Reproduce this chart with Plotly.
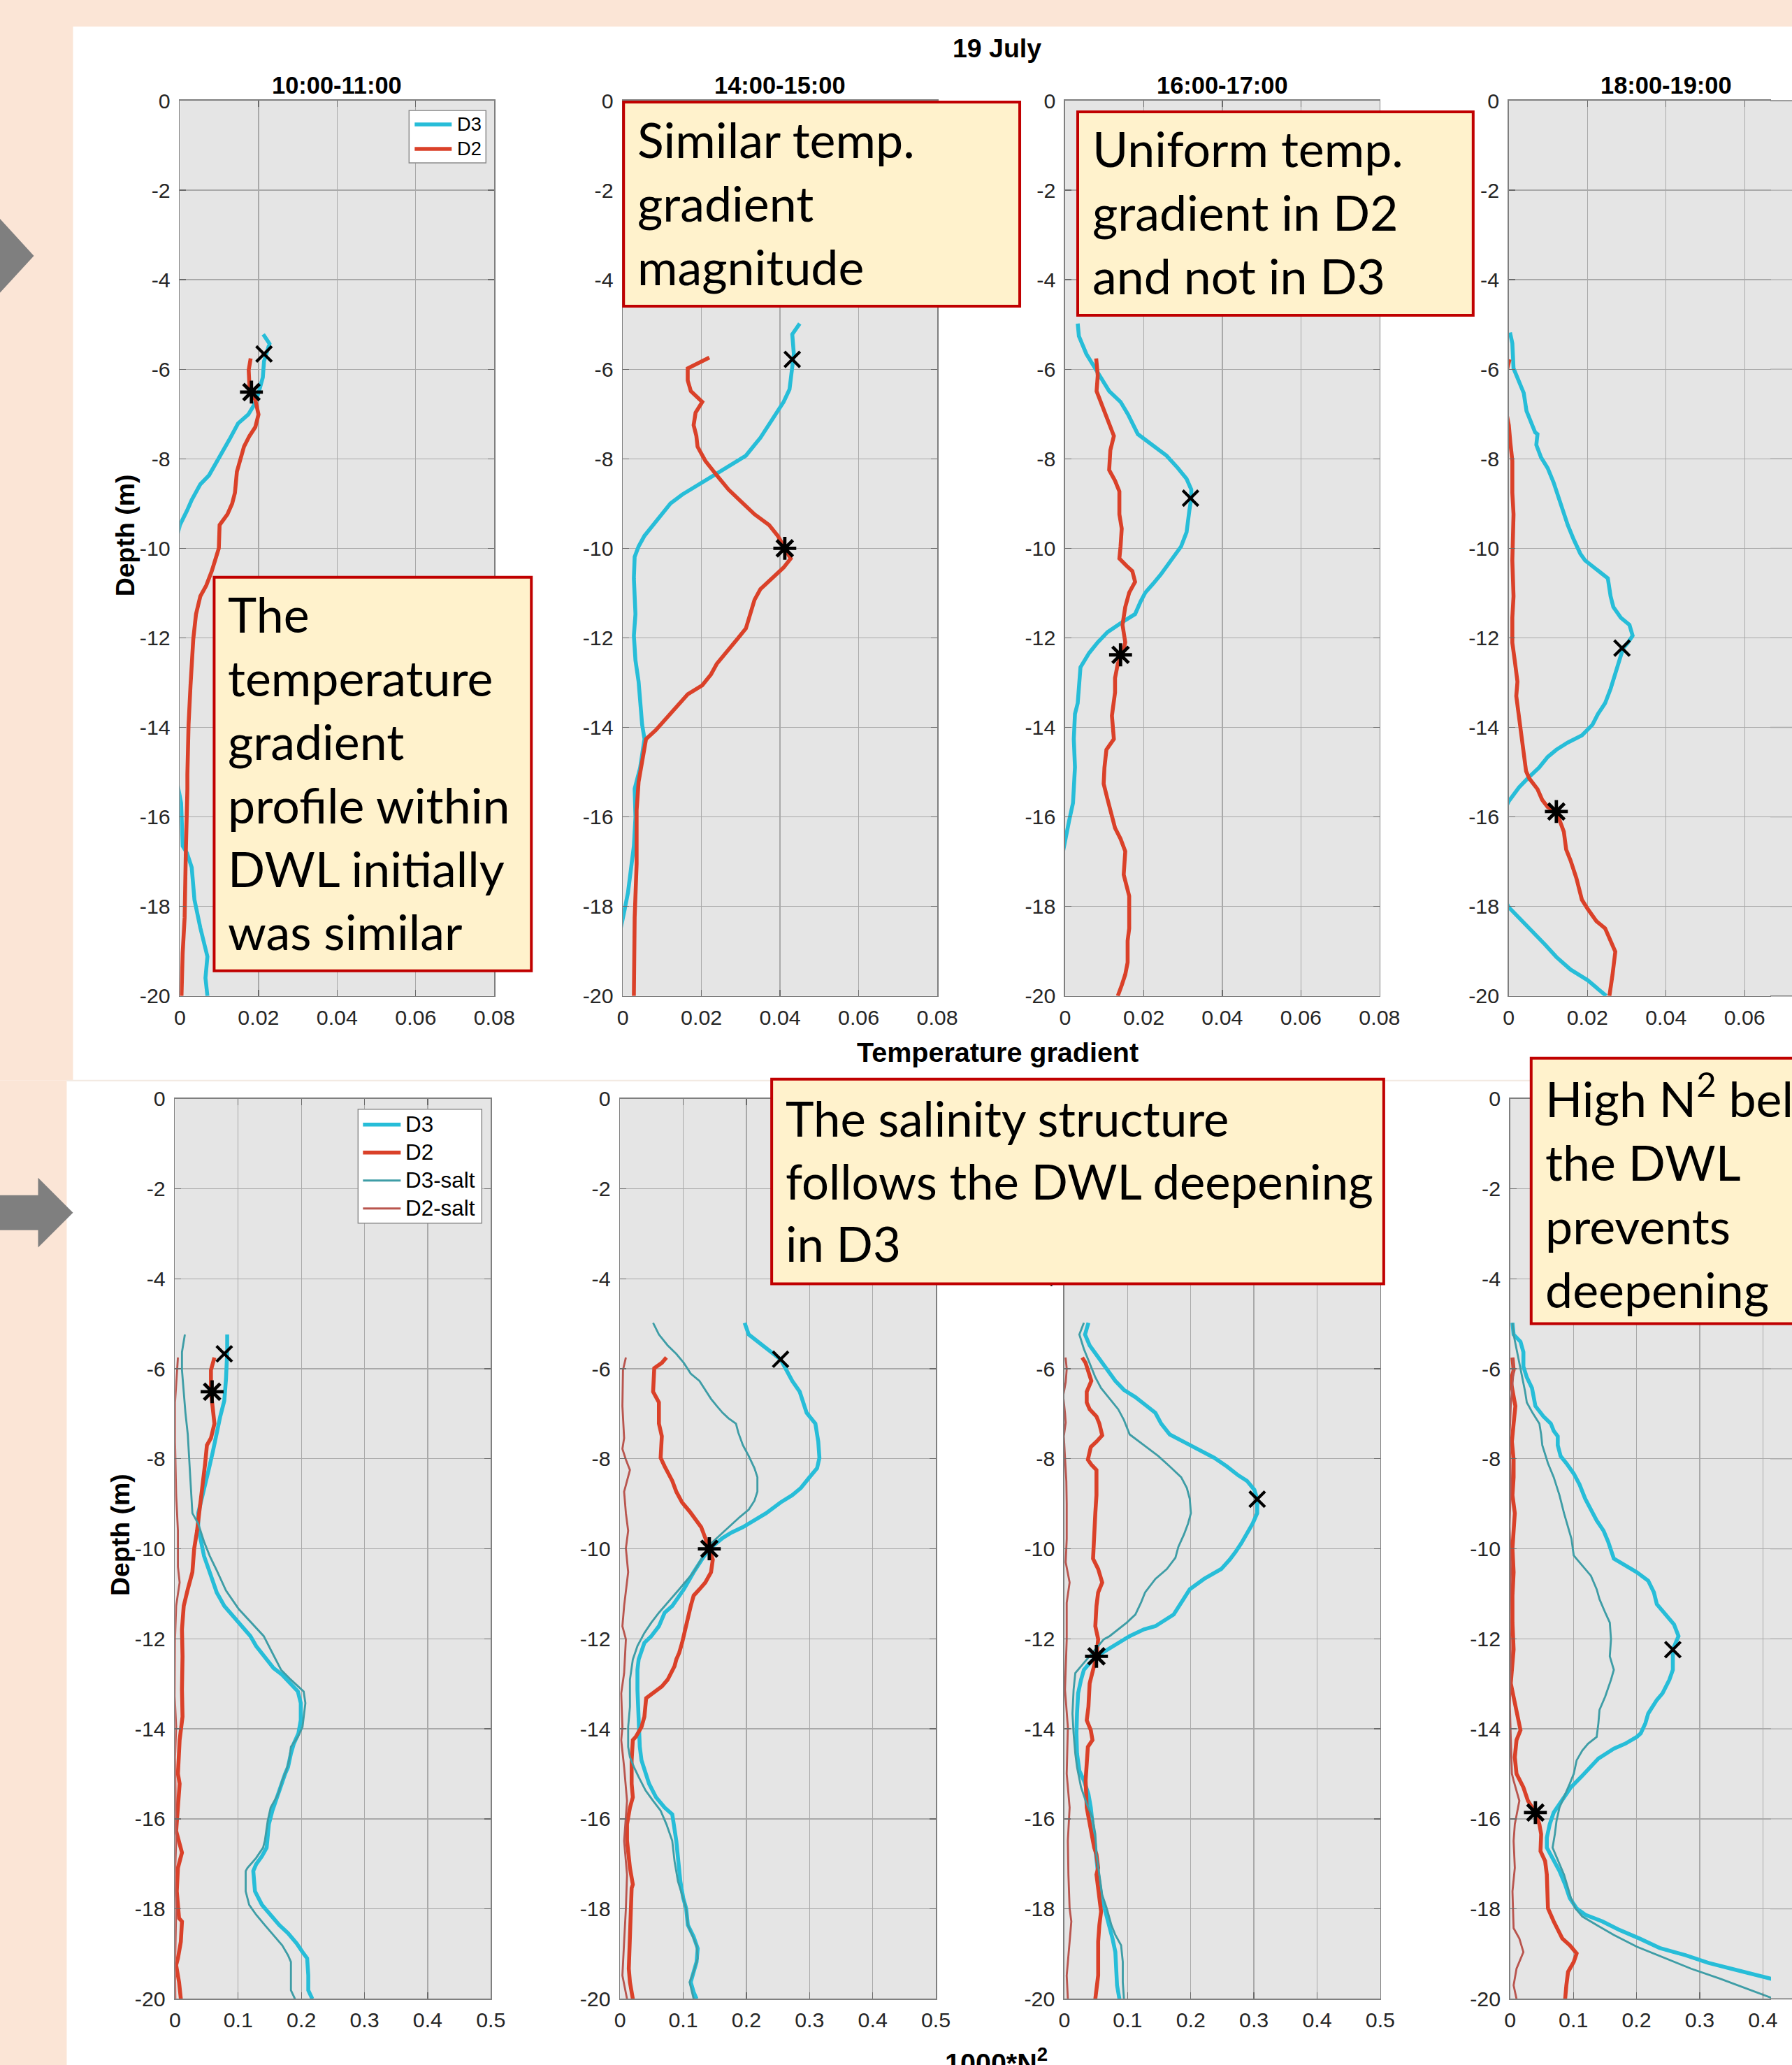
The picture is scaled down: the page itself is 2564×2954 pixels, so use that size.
import plotly.graph_objects as go

W, H = 2564, 2954
# The photographed page shows the figure slightly shrunk and offset; positions below are given in
# target-image pixels and mapped back into figure pixels here.
SX, SY, OX, OY = 0.9855, 0.9887, 6.5, 16.0
K = 1 / 0.987  # size compensation for fonts / strokes


def fx(p):
    return ((p - OX) / SX) / W


def fy(p):
    return 1 - ((p - OY) / SY) / H


# ------------------------------------------------------------------ data
depth_ticks = [-20, -18, -16, -14, -12, -10, -8, -6, -4, -2, 0]
depth_ticklabels = ["-20", "-18", "-16", "-14", "-12", "-10", "-8", "-6", "-4", "-2", "0"]
tg_ticks = [0, 0.02, 0.04, 0.06, 0.08]
tg_ticklabels = ["0", "0.02", "0.04", "0.06", "0.08"]
n2_ticks = [0, 0.1, 0.2, 0.3, 0.4, 0.5]
n2_ticklabels = ["0", "0.1", "0.2", "0.3", "0.4", "0.5"]
time_windows = ["10:00-11:00", "14:00-15:00", "16:00-17:00", "18:00-19:00"]

# --- temperature gradient, top row
t1_d3_z = [-5.22, -5.43, -5.82, -6.18, -6.53, -6.81, -7.01, -7.21, -7.57, -8.01, -8.37, -8.57, -8.92, -9.16, -9.48,
           -10.0, -11.0, -12.5, -14.0, -15.0, -15.53, -15.69, -16.65, -16.81, -17.13, -17.85, -18.48, -18.88, -19.12,
           -19.6, -20.0]
t1_d3_x = [0.0212, 0.0228, 0.0214, 0.0211, 0.0200, 0.0188, 0.0174, 0.0148, 0.0126, 0.0096, 0.0074, 0.0052, 0.0030,
           0.0018, 0.0000, -0.0015, -0.0030, -0.0040, -0.0030, -0.0012, 0.0000, 0.0003, 0.0007, 0.0018, 0.0030, 0.0037,
           0.0052, 0.0062, 0.0070, 0.0065, 0.0070]
t1_d2_z = [-5.76, -6.02, -6.37, -6.51, -6.69, -7.01, -7.29, -7.49, -7.73, -7.97, -8.29, -8.76, -9.0, -9.24, -9.48,
           -10.0, -10.51, -10.83, -11.07, -11.47, -12.03, -13.06, -13.94, -15.06, -15.38, -16.81, -18.25, -19.04, -20.0]
t1_d2_x = [0.0180, 0.0175, 0.0177, 0.0182, 0.0192, 0.0200, 0.0192, 0.0177, 0.0163, 0.0155, 0.0145, 0.0140, 0.0133,
           0.0121, 0.0101, 0.0099, 0.0081, 0.0067, 0.0052, 0.0041, 0.0034, 0.0027, 0.0022, 0.0019, 0.0019, 0.0015,
           0.0012, 0.0007, 0.0004]

t2_d3_z = [-4.98, -5.22, -5.66, -6.45, -6.73, -6.93, -7.25, -7.53, -7.69, -7.93, -8.13, -8.37, -8.61, -8.80, -9.0,
           -9.24, -9.48, -9.72, -9.96, -10.19, -10.67, -11.47, -11.95, -12.5, -12.98, -13.46, -13.94, -14.26, -14.9,
           -15.37, -16.01, -16.65, -17.37, -17.69, -18.09, -18.6, -19.3, -20.0]
t2_d3_x = [0.0450, 0.0431, 0.0435, 0.0424, 0.0409, 0.0394, 0.0372, 0.0350, 0.0335, 0.0313, 0.0276, 0.0232, 0.0187,
           0.0151, 0.0121, 0.0099, 0.0077, 0.0055, 0.0040, 0.0030, 0.0028, 0.0032, 0.0028, 0.0032, 0.0040, 0.0044,
           0.0049, 0.0055, 0.0044, 0.0030, 0.0032, 0.0028, 0.0018, 0.0013, 0.0004, -0.0008, -0.0015, -0.0020]
t2_d2_z = [-5.74, -5.98, -6.25, -6.49, -6.73, -6.97, -7.25, -7.49, -7.73, -8.05, -8.37, -8.69, -9.0, -9.24, -9.48,
           -9.72, -10.0, -10.23, -10.43, -10.67, -10.91, -11.15, -11.47, -11.79, -12.03, -12.35, -12.58, -12.82, -13.06,
           -13.26, -13.54, -13.78, -14.06, -14.26, -14.66, -15.22, -15.85, -17.05, -18.25, -19.44, -20.0]
t2_d2_x = [0.0220, 0.0165, 0.0165, 0.0173, 0.0202, 0.0185, 0.0180, 0.0187, 0.0190, 0.0210, 0.0239, 0.0269, 0.0306,
           0.0335, 0.0372, 0.0394, 0.0412, 0.0427, 0.0409, 0.0379, 0.0350, 0.0335, 0.0323, 0.0313, 0.0291, 0.0261,
           0.0239, 0.0224, 0.0202, 0.0165, 0.0136, 0.0114, 0.0084, 0.0059, 0.0052, 0.0040, 0.0035, 0.0035, 0.0030,
           0.0028, 0.0028]

t3_d3_z = [-4.98, -5.26, -5.66, -5.98, -6.22, -6.49, -6.73, -7.01, -7.45, -7.69, -7.93, -8.21, -8.45, -8.69, -8.88,
           -9.16, -9.64, -9.96, -10.23, -10.43, -10.59, -10.79, -10.99, -11.19, -11.47, -11.63, -11.87, -12.1, -12.34,
           -12.66, -13.06, -13.46, -13.7, -14.26, -14.89, -15.69, -16.09, -16.57, -17.2, -18.5, -20.0]
t3_d3_x = [0.0032, 0.0035, 0.0054, 0.0076, 0.0093, 0.0112, 0.0141, 0.0160, 0.0185, 0.0221, 0.0258, 0.0287, 0.0309,
           0.0321, 0.0321, 0.0316, 0.0309, 0.0295, 0.0273, 0.0258, 0.0243, 0.0224, 0.0204, 0.0192, 0.0178, 0.0149,
           0.0108, 0.0083, 0.0061, 0.0039, 0.0035, 0.0032, 0.0025, 0.0022, 0.0025, 0.0020, 0.0010, 0.0000, -0.0015,
           -0.0025, -0.0030]
t3_d2_z = [-5.76, -6.14, -6.49, -6.89, -7.25, -7.49, -7.81, -8.25, -8.49, -8.73, -9.24, -9.56, -9.96, -10.23, -10.39,
           -10.51, -10.75, -10.99, -11.31, -11.71, -12.1, -12.38, -12.58, -12.9, -13.22, -13.74, -14.26, -14.5, -14.9,
           -15.26, -15.61, -16.01, -16.25, -16.49, -16.77, -17.29, -17.53, -17.77, -18.49, -18.77, -19.25, -19.52,
           -19.76, -20.0]
t3_d2_x = [0.0079, 0.0083, 0.0080, 0.0098, 0.0112, 0.0124, 0.0115, 0.0112, 0.0127, 0.0138, 0.0138, 0.0144, 0.0141,
           0.0138, 0.0156, 0.0171, 0.0178, 0.0163, 0.0153, 0.0146, 0.0153, 0.0146, 0.0134, 0.0127, 0.0127, 0.0119,
           0.0124, 0.0105, 0.0100, 0.0098, 0.0108, 0.0119, 0.0127, 0.0141, 0.0153, 0.0149, 0.0156, 0.0163, 0.0163,
           0.0159, 0.0159, 0.0153, 0.0144, 0.0134]

t4_d3_z = [-5.18, -5.42, -5.98, -6.29, -6.53, -6.93, -7.17, -7.41, -7.45, -7.69, -7.97, -8.21, -8.53, -8.84, -9.08,
           -9.32, -9.48, -9.8, -10.12, -10.27, -10.47, -10.67, -11.07, -11.31, -11.55, -11.71, -11.95, -12.11, -12.23,
           -12.43, -12.74, -13.14, -13.46, -13.7, -13.94, -14.18, -14.34, -14.5, -14.66, -14.9, -15.14, -15.34, -15.65,
           -16.2, -17.0, -17.6, -18.02, -18.25, -18.53, -18.85, -19.13, -19.41, -19.65, -19.85, -20.0]
t4_d3_x = [0.0003, 0.0009, 0.0012, 0.0026, 0.0038, 0.0045, 0.0055, 0.0067, 0.0073, 0.0070, 0.0082, 0.0099, 0.0114,
           0.0125, 0.0136, 0.0143, 0.0150, 0.0165, 0.0182, 0.0194, 0.0223, 0.0252, 0.0259, 0.0266, 0.0285, 0.0307,
           0.0315, 0.0303, 0.0291, 0.0284, 0.0274, 0.0259, 0.0245, 0.0227, 0.0213, 0.0186, 0.0150, 0.0121, 0.0099,
           0.0077, 0.0048, 0.0026, 0.0000, -0.0030, -0.0045, -0.0025, 0.0000, 0.0026, 0.0055, 0.0092, 0.0121, 0.0157,
           0.0201, 0.0227, 0.0248]
t4_d2_z = [-5.78, -6.2, -6.8, -7.25, -7.65, -8.05, -8.76, -9.24, -10.27, -11.07, -11.55, -12.11, -12.5, -12.98, -13.3,
           -13.78, -14.26, -14.74, -14.98, -15.14, -15.38, -15.62, -15.78, -15.88, -16.09, -16.33, -16.73, -16.97,
           -17.37, -17.85, -18.06, -18.33, -18.49, -18.77, -19.01, -19.52, -20.0]
t4_d2_x = [0.0002, -0.0010, -0.0010, 0.0000, 0.0004, 0.0009, 0.0009, 0.0012, 0.0009, 0.0012, 0.0009, 0.0009, 0.0015,
           0.0022, 0.0019, 0.0026, 0.0031, 0.0038, 0.0044, 0.0052, 0.0073, 0.0085, 0.0099, 0.0121, 0.0131, 0.0140,
           0.0146, 0.0157, 0.0172, 0.0186, 0.0201, 0.0223, 0.0245, 0.0259, 0.0271, 0.0264, 0.0256]

top_xmark_x = [0.0214, 0.0431, 0.0319, 0.0288]
top_xmark_z = [-5.66, -5.78, -8.88, -12.23]
top_star_x = [0.0182, 0.0412, 0.0141, 0.0121]
top_star_z = [-6.51, -10.0, -12.38, -15.88]

# --- 1000*N^2, bottom row
b1_d3_z = [-5.24, -5.63, -6.23, -6.71, -7.06, -7.46, -7.86, -8.25, -8.57, -8.89, -9.21, -9.52, -9.84, -10.16, -10.6,
           -10.97, -11.27, -11.49, -11.64, -11.94, -12.16, -12.39, -12.65, -12.8, -12.99, -13.17, -13.43, -13.81, -14.1,
           -14.33, -14.55, -14.85, -15.0, -15.3, -15.6, -15.82, -16.12, -16.64, -16.83, -17.01, -17.16, -17.61, -17.91,
           -18.13, -18.36, -18.54, -18.77, -18.96, -19.1, -19.48, -19.81, -20.0]
b1_d3_x = [0.0826, 0.0826, 0.0807, 0.0780, 0.0716, 0.0660, 0.0596, 0.0532, 0.0477, 0.0413, 0.0367, 0.0367, 0.0413,
           0.0459, 0.0569, 0.0660, 0.0780, 0.0917, 0.1009, 0.1193, 0.1284, 0.1422, 0.1560, 0.1697, 0.1835, 0.1945,
           0.1991, 0.1991, 0.1954, 0.1881, 0.1835, 0.1789, 0.1743, 0.1670, 0.1606, 0.1541, 0.1486, 0.1450, 0.1376,
           0.1284, 0.1239, 0.1266, 0.1376, 0.1514, 0.1651, 0.1789, 0.1927, 0.2018, 0.2092, 0.2110, 0.2110, 0.2174]
b1_d3s_z = [-5.24, -5.63, -6.03, -6.51, -6.98, -7.46, -8.02, -8.57, -9.21, -9.44, -9.84, -10.16, -10.48, -10.93,
            -11.34, -11.64, -11.94, -12.24, -12.69, -12.91, -13.17, -13.43, -13.96, -14.18, -14.4, -14.7, -14.93,
            -15.15, -15.45, -15.75, -16.04, -16.49, -16.64, -16.87, -17.09, -17.16, -17.61, -17.91, -18.13, -18.36,
            -18.58, -18.81, -19.03, -19.18, -19.48, -19.81, -20.0]
b1_d3s_x = [0.0156, 0.0110, 0.0110, 0.0138, 0.0165, 0.0202, 0.0229, 0.0248, 0.0275, 0.0367, 0.0459, 0.0550, 0.0660,
            0.0807, 0.1009, 0.1211, 0.1404, 0.1514, 0.1679, 0.1835, 0.2037, 0.2064, 0.2018, 0.1945, 0.1835, 0.1807,
            0.1761, 0.1697, 0.1633, 0.1514, 0.1468, 0.1422, 0.1394, 0.1284, 0.1147, 0.1119, 0.1119, 0.1174, 0.1284,
            0.1422, 0.1560, 0.1697, 0.1789, 0.1835, 0.1835, 0.1835, 0.1899]
b1_d2_z = [-5.75, -6.03, -6.51, -6.83, -7.22, -7.54, -7.7, -8.1, -8.57, -9.21, -9.6, -10.0, -10.52, -10.9, -11.27,
           -11.79, -12.39, -13.13, -13.73, -14.25, -15.0, -15.22, -15.75, -16.27, -16.75, -17.09, -17.61, -18.21,
           -18.28, -18.73, -19.1, -19.25, -19.63, -20.0]
b1_d2_x = [0.0624, 0.0569, 0.0569, 0.0596, 0.0624, 0.0569, 0.0505, 0.0477, 0.0440, 0.0385, 0.0349, 0.0303, 0.0275,
           0.0202, 0.0138, 0.0110, 0.0119, 0.0110, 0.0119, 0.0073, 0.0046, 0.0073, 0.0046, 0.0018, 0.0110, 0.0046,
           0.0028, 0.0064, 0.0110, 0.0092, 0.0046, 0.0018, 0.0064, 0.0092]
b1_d2s_z = [-5.75, -6.19, -6.75, -7.62, -8.81, -9.6, -10.4, -10.75, -11.27, -12.0, -13.28, -13.96, -14.63, -16.49,
            -17.24, -17.99, -19.33, -20.0]
b1_d2s_x = [0.0046, 0.0028, 0.0000, 0.0000, 0.0018, 0.0046, 0.0046, 0.0073, 0.0018, 0.0000, -0.0005, 0.0018, 0.0000,
            0.0018, 0.0000, 0.0018, 0.0000, 0.0005]

b2_d3_z = [-4.98, -5.24, -5.44, -5.63, -5.79, -6.03, -6.27, -6.51, -6.98, -7.22, -7.62, -7.98, -8.21, -8.41, -8.65,
           -8.81, -8.97, -9.21, -9.37, -9.52, -9.64, -9.76, -9.92, -10.0, -10.22, -10.52, -10.9, -11.27, -11.42, -11.72,
           -11.94, -12.09, -12.46, -12.69, -13.13, -13.66, -14.1, -14.4, -14.7, -15.0, -15.22, -15.52, -15.75, -15.9,
           -16.19, -16.49, -16.87, -17.39, -17.76, -17.99, -18.36, -18.62, -18.88, -19.18, -19.4, -19.63, -19.85, -20.0]
b2_d3_x = [0.1972, 0.2037, 0.2220, 0.2404, 0.2541, 0.2633, 0.2725, 0.2844, 0.2954, 0.3092, 0.3138, 0.3156, 0.3119,
           0.3000, 0.2862, 0.2725, 0.2541, 0.2312, 0.2128, 0.1945, 0.1761, 0.1624, 0.1486, 0.1413, 0.1303, 0.1165,
           0.1009, 0.0826, 0.0706, 0.0615, 0.0495, 0.0385, 0.0294, 0.0275, 0.0275, 0.0294, 0.0312, 0.0312, 0.0339,
           0.0404, 0.0459, 0.0569, 0.0706, 0.0826, 0.0862, 0.0890, 0.0917, 0.0954, 0.1000, 0.1046, 0.1073, 0.1165,
           0.1229, 0.1211, 0.1165, 0.1119, 0.1165, 0.1211]
b2_d3s_z = [-4.98, -5.24, -5.48, -5.67, -5.87, -6.11, -6.27, -6.47, -6.67, -6.83, -6.98, -7.1, -7.22, -7.42, -7.7,
            -7.94, -8.21, -8.41, -8.73, -8.93, -9.13, -9.29, -9.44, -9.6, -9.76, -9.88, -10.08, -10.52, -10.9, -11.19,
            -11.42, -11.64, -11.87, -12.16, -12.46, -12.91, -13.51, -13.96, -14.4, -14.63, -14.85, -15.07, -15.37,
            -15.6, -15.82, -16.12, -16.49, -16.94, -17.39, -17.69, -17.99, -18.36, -18.58, -18.81, -19.1, -19.4,
            -19.63, -19.85, -20.0]
b2_d3s_x = [0.0523, 0.0615, 0.0752, 0.0890, 0.1009, 0.1119, 0.1257, 0.1349, 0.1440, 0.1532, 0.1624, 0.1716, 0.1835,
            0.1872, 0.1945, 0.2037, 0.2128, 0.2174, 0.2174, 0.2128, 0.2037, 0.1899, 0.1780, 0.1651, 0.1532, 0.1440,
            0.1349, 0.1165, 0.0936, 0.0752, 0.0615, 0.0495, 0.0385, 0.0275, 0.0202, 0.0156, 0.0156, 0.0128, 0.0128,
            0.0156, 0.0220, 0.0294, 0.0404, 0.0523, 0.0642, 0.0734, 0.0826, 0.0862, 0.0917, 0.0982, 0.1046, 0.1073,
            0.1138, 0.1211, 0.1229, 0.1165, 0.1101, 0.1138, 0.1165]
b2_d2_z = [-5.75, -5.87, -5.99, -6.51, -6.75, -7.22, -7.5, -7.98, -8.17, -8.49, -8.73, -8.97, -9.17, -9.37, -9.52,
           -9.76, -10.0, -10.24, -10.52, -10.75, -10.9, -11.04, -11.27, -11.57, -11.87, -12.09, -12.31, -12.46, -12.61,
           -12.76, -12.91, -13.06, -13.21, -13.32, -13.73, -13.96, -14.18, -14.25, -14.7, -15.22, -15.52, -15.75,
           -16.12, -16.49, -17.09, -17.46, -17.54, -18.36, -19.33, -19.63, -20.0]
b2_d2_x = [0.0734, 0.0661, 0.0541, 0.0523, 0.0615, 0.0615, 0.0661, 0.0642, 0.0706, 0.0826, 0.0890, 0.0982, 0.1101,
           0.1211, 0.1284, 0.1349, 0.1413, 0.1468, 0.1440, 0.1349, 0.1257, 0.1165, 0.1119, 0.1073, 0.1028, 0.0982,
           0.0936, 0.0890, 0.0862, 0.0798, 0.0752, 0.0661, 0.0523, 0.0413, 0.0385, 0.0339, 0.0248, 0.0202, 0.0183,
           0.0183, 0.0202, 0.0156, 0.0110, 0.0110, 0.0156, 0.0202, 0.0183, 0.0156, 0.0138, 0.0156, 0.0202]
b2_d2s_z = [-5.75, -6.03, -6.83, -7.54, -7.78, -8.02, -8.25, -8.49, -8.73, -9.21, -9.6, -9.99, -10.52, -11.27, -11.72,
            -12.01, -12.76, -13.21, -13.96, -14.25, -14.85, -15.6, -16.49, -17.24, -17.99, -18.73, -19.48, -20.0]
b2_d2s_x = [0.0092, 0.0046, 0.0037, 0.0064, 0.0037, 0.0092, 0.0156, 0.0110, 0.0064, 0.0092, 0.0128, 0.0092, 0.0128,
            0.0064, 0.0037, 0.0092, 0.0064, 0.0018, 0.0037, 0.0018, 0.0064, 0.0110, 0.0064, 0.0110, 0.0092, 0.0064,
            0.0037, 0.0110]

b3_d3_z = [-4.98, -5.24, -5.48, -5.75, -6.03, -6.27, -6.47, -6.63, -6.83, -6.98, -7.22, -7.46, -7.66, -7.82, -7.98,
           -8.17, -8.37, -8.49, -8.69, -8.9, -9.21, -9.44, -9.68, -9.88, -10.07, -10.24, -10.45, -10.67, -10.9, -11.19,
           -11.46, -11.72, -11.79, -11.94, -12.16, -12.28, -12.39, -12.54, -12.69, -12.91, -13.21, -13.66, -14.1,
           -14.55, -14.93, -15.15, -15.45, -15.75, -16.12, -16.49, -16.94, -17.24, -17.69, -18.06, -18.36, -18.66,
           -18.96, -19.33, -19.7, -20.0]
b3_d3_x = [0.0380, 0.0326, 0.0399, 0.0534, 0.0670, 0.0806, 0.0942, 0.1123, 0.1304, 0.1440, 0.1531, 0.1667, 0.1938,
           0.2165, 0.2373, 0.2572, 0.2754, 0.2889, 0.3007, 0.3052, 0.3052, 0.2980, 0.2889, 0.2799, 0.2708, 0.2618,
           0.2482, 0.2210, 0.1984, 0.1848, 0.1730, 0.1440, 0.1259, 0.1033, 0.0761, 0.0625, 0.0507, 0.0399, 0.0308,
           0.0263, 0.0217, 0.0199, 0.0190, 0.0199, 0.0236, 0.0308, 0.0380, 0.0417, 0.0444, 0.0471, 0.0507, 0.0534,
           0.0580, 0.0652, 0.0716, 0.0761, 0.0806, 0.0824, 0.0833, 0.0870]
b3_d3s_z = [-4.98, -5.24, -5.56, -5.87, -6.19, -6.43, -6.67, -6.9, -7.14, -7.46, -7.7, -7.94, -8.17, -8.41, -8.65,
            -8.89, -9.21, -9.44, -9.68, -9.96, -10.2, -10.45, -10.67, -10.97, -11.19, -11.46, -11.64, -11.79, -11.94,
            -12.01, -12.24, -12.46, -12.61, -12.76, -13.13, -13.66, -14.1, -14.55, -14.85, -15.3, -15.67, -15.97,
            -16.34, -16.79, -17.24, -17.69, -17.99, -18.36, -18.58, -18.81, -19.18, -19.63, -20.0]
b3_d3s_x = [0.0308, 0.0236, 0.0308, 0.0399, 0.0489, 0.0580, 0.0716, 0.0851, 0.0942, 0.1033, 0.1259, 0.1486, 0.1667,
            0.1848, 0.1938, 0.1984, 0.2002, 0.1957, 0.1893, 0.1803, 0.1757, 0.1621, 0.1440, 0.1277, 0.1214, 0.1123,
            0.0987, 0.0851, 0.0716, 0.0625, 0.0489, 0.0353, 0.0263, 0.0172, 0.0145, 0.0127, 0.0145, 0.0172, 0.0199,
            0.0263, 0.0353, 0.0444, 0.0489, 0.0507, 0.0553, 0.0598, 0.0670, 0.0743, 0.0806, 0.0897, 0.0924, 0.0924,
            0.0942]
b3_d2_z = [-5.75, -5.87, -6.03, -6.27, -6.51, -6.75, -6.9, -7.06, -7.22, -7.48, -7.62, -7.74, -8.02, -8.13, -8.25,
           -8.81, -9.21, -9.84, -10.22, -10.45, -10.75, -10.97, -11.27, -11.72, -12.01, -12.39, -12.76, -12.99, -13.51,
           -13.81, -14.03, -14.25, -14.4, -14.7, -15.15, -15.75, -16.12, -16.34, -16.64, -16.79, -17.09, -17.24,
           -17.54, -17.84, -18.06, -18.36, -18.73, -19.48, -19.78, -20.0]
b3_d2_x = [0.0281, 0.0335, 0.0371, 0.0426, 0.0353, 0.0353, 0.0399, 0.0507, 0.0553, 0.0598, 0.0507, 0.0417, 0.0371,
           0.0426, 0.0507, 0.0507, 0.0489, 0.0471, 0.0453, 0.0534, 0.0598, 0.0534, 0.0507, 0.0489, 0.0534, 0.0507,
           0.0444, 0.0399, 0.0380, 0.0353, 0.0417, 0.0444, 0.0371, 0.0353, 0.0335, 0.0353, 0.0399, 0.0426, 0.0471,
           0.0507, 0.0534, 0.0507, 0.0534, 0.0562, 0.0580, 0.0553, 0.0534, 0.0534, 0.0507, 0.0489]
b3_d2s_z = [-5.75, -6.0, -6.3, -6.6, -7.0, -7.2, -7.5, -8.0, -8.5, -9.0, -9.78, -10.3, -10.75, -11.2, -12.01, -13.13,
            -13.96, -15.0, -15.75, -16.49, -17.24, -17.99, -18.28, -18.73, -19.48, -20.0]
b3_d2s_x = [0.0018, 0.0036, 0.0020, -0.0020, 0.0010, 0.0020, -0.0010, 0.0010, 0.0030, 0.0036, 0.0036, 0.0020, 0.0082,
            0.0036, 0.0036, 0.0009, 0.0054, 0.0036, 0.0082, 0.0054, 0.0063, 0.0082, 0.0109, 0.0082, 0.0036, 0.0054]

b4_d3_z = [-4.98, -5.24, -5.4, -5.63, -5.95, -6.19, -6.43, -6.75, -6.83, -7.06, -7.22, -7.38, -7.5, -7.7, -7.94, -8.1,
           -8.33, -8.57, -8.89, -9.13, -9.37, -9.6, -9.84, -10.22, -10.37, -10.52, -10.71, -10.97, -11.23, -11.46,
           -11.68, -11.94, -12.16, -12.24, -12.69, -12.91, -13.21, -13.36, -13.66, -13.88, -14.1, -14.18, -14.33,
           -14.44, -14.66, -14.85, -15.04, -15.3, -15.49, -15.67, -15.86, -16.12, -16.42, -16.64, -16.87, -17.16,
           -17.46, -17.76, -17.99, -18.13, -18.28, -18.47, -18.66, -18.87, -19.03, -19.2, -19.33, -19.48, -19.63,
           -19.67]
b4_d3_x = [0.0036, 0.0054, 0.0163, 0.0209, 0.0209, 0.0263, 0.0345, 0.0390, 0.0399, 0.0526, 0.0644, 0.0689, 0.0753,
           0.0753, 0.0798, 0.0889, 0.1006, 0.1097, 0.1188, 0.1278, 0.1369, 0.1478, 0.1550, 0.1641, 0.1822, 0.2004,
           0.2185, 0.2276, 0.2321, 0.2457, 0.2593, 0.2665, 0.2593, 0.2575, 0.2575, 0.2520, 0.2412, 0.2321, 0.2185,
           0.2140, 0.2067, 0.2004, 0.1822, 0.1641, 0.1396, 0.1278, 0.1142, 0.0961, 0.0870, 0.0780, 0.0689, 0.0626,
           0.0580, 0.0580, 0.0671, 0.0780, 0.0870, 0.0943, 0.1052, 0.1188, 0.1460, 0.1732, 0.2049, 0.2366, 0.2774,
           0.3137, 0.3500, 0.3953, 0.4406, 0.4460]
b4_d3s_z = [-4.98, -5.24, -5.56, -5.87, -6.19, -6.51, -6.75, -6.98, -7.22, -7.46, -7.7, -8.1, -8.41, -8.81, -9.21,
            -9.52, -9.78, -10.15, -10.37, -10.6, -10.9, -11.12, -11.42, -11.64, -12.01, -12.39, -12.69, -12.91, -13.28,
            -13.58, -13.88, -14.18, -14.33, -14.48, -14.7, -15.0, -15.22, -15.45, -15.75, -16.04, -16.34, -16.64,
            -16.94, -17.24, -17.54, -17.76, -17.99, -18.17, -18.36, -18.58, -18.84, -19.07, -19.33, -19.55, -19.78,
            -20.0]
b4_d3s_x = [0.0036, 0.0054, 0.0100, 0.0145, 0.0191, 0.0236, 0.0263, 0.0354, 0.0462, 0.0490, 0.0508, 0.0598, 0.0689,
            0.0780, 0.0852, 0.0916, 0.0970, 0.1006, 0.1142, 0.1278, 0.1369, 0.1414, 0.1505, 0.1577, 0.1596, 0.1577,
            0.1641, 0.1596, 0.1505, 0.1414, 0.1396, 0.1369, 0.1233, 0.1142, 0.1052, 0.1006, 0.0943, 0.0870, 0.0780,
            0.0734, 0.0707, 0.0671, 0.0762, 0.0852, 0.0916, 0.0961, 0.1034, 0.1142, 0.1369, 0.1641, 0.2004, 0.2412,
            0.2865, 0.3318, 0.3772, 0.4180]
b4_d2_z = [-5.75, -6.03, -6.27, -6.51, -6.83, -7.22, -7.62, -8.02, -8.41, -8.81, -9.21, -9.6, -10.0, -10.52, -11.04,
           -11.64, -12.24, -12.99, -13.28, -13.66, -14.03, -14.25, -14.63, -15.0, -15.3, -15.6, -15.86, -16.12, -16.34,
           -16.72, -16.94, -17.24, -17.99, -18.28, -18.51, -18.66, -18.81, -18.99, -19.18, -19.4, -19.7, -20.0]
b4_d2_x = [0.0036, 0.0054, 0.0009, 0.0036, 0.0082, 0.0054, 0.0027, 0.0054, 0.0054, 0.0036, 0.0073, 0.0054, 0.0036,
           0.0054, 0.0036, 0.0036, 0.0054, 0.0009, 0.0054, 0.0100, 0.0163, 0.0100, 0.0073, 0.0100, 0.0209, 0.0281,
           0.0399, 0.0462, 0.0490, 0.0480, 0.0553, 0.0580, 0.0598, 0.0689, 0.0762, 0.0825, 0.0943, 0.1052, 0.1006,
           0.0916, 0.0889, 0.0870]
b4_d2s_z = [-5.75, -6.03, -6.83, -7.5, -8.5, -9.5, -10.5, -11.5, -12.5, -13.5, -14.2, -15.0, -15.15, -15.6, -16.12,
            -16.49, -17.09, -17.61, -18.43, -18.66, -18.96, -19.33, -19.7, -20.0]
b4_d2s_x = [0.0036, 0.0054, 0.0009, -0.0010, 0.0010, -0.0010, 0.0010, -0.0010, 0.0010, -0.0005, 0.0009, 0.0027,
            0.0054, 0.0145, 0.0073, 0.0054, 0.0073, 0.0036, 0.0054, 0.0145, 0.0209, 0.0100, 0.0054, 0.0100]

bot_xmark_x = [0.0780, 0.2541, 0.3052, 0.2575]
bot_xmark_z = [-5.67, -5.79, -8.90, -12.24]
bot_star_x = [0.0587, 0.1413, 0.0507, 0.0399]
bot_star_z = [-6.51, -10.0, -12.39, -15.86]

top_names = ["D3", "D2"]
bot_names = ["D3", "D2", "D3-salt", "D2-salt"]

# ------------------------------------------------------------------ style
C_D3, C_D2, C_D3S, C_D2S = "#27BDD8", "#DA4129", "#3E9DA6", "#B9554E"
FONT = "Liberation Sans, Arial, Helvetica, sans-serif"
BOXFONT = "Lato, Carlito, Calibri, sans-serif"
TICKCOL = "#262626"
GRID, AXLINE = "#A9A9A9", "#7F7F7F"

top_series = [
    [(t1_d3_x, t1_d3_z), (t1_d2_x, t1_d2_z)],
    [(t2_d3_x, t2_d3_z), (t2_d2_x, t2_d2_z)],
    [(t3_d3_x, t3_d3_z), (t3_d2_x, t3_d2_z)],
    [(t4_d3_x, t4_d3_z), (t4_d2_x, t4_d2_z)],
]
bot_series = [
    [(b1_d3_x, b1_d3_z), (b1_d2_x, b1_d2_z), (b1_d3s_x, b1_d3s_z), (b1_d2s_x, b1_d2s_z)],
    [(b2_d3_x, b2_d3_z), (b2_d2_x, b2_d2_z), (b2_d3s_x, b2_d3s_z), (b2_d2s_x, b2_d2s_z)],
    [(b3_d3_x, b3_d3_z), (b3_d2_x, b3_d2_z), (b3_d3s_x, b3_d3s_z), (b3_d2s_x, b3_d2s_z)],
    [(b4_d3_x, b4_d3_z), (b4_d2_x, b4_d2_z), (b4_d3s_x, b4_d3s_z), (b4_d2s_x, b4_d2s_z)],
]
top_colors = [C_D3, C_D2]
top_widths = [5.5 * K, 5.5 * K]
bot_colors = [C_D3, C_D2, C_D3S, C_D2S]
bot_widths = [5.5 * K, 5.5 * K, 2.8 * K, 2.8 * K]

# panel geometry in target-image pixels
XEDGE = OX + SX * W  # right edge of the drawable figure, in target pixels
top_xpx = [(256, 706), (890, 1340), (1523, 1973), (2158, XEDGE)]
top_xrng = [[0, 0.08], [0, 0.08], [0, 0.08], [0, 0.08 * (XEDGE - 2158) / 450]]
bot_xpx = [(249, 701), (886, 1338), (1522, 1974), (2160, XEDGE)]
bot_xrng = [[0, 0.5], [0, 0.5], [0, 0.5], [0, 0.5 * (XEDGE - 2160) / 452]]
top_ypx = (143, 1424)
bot_ypx = (1571, 2859)

fig = go.Figure()
layout = {}


def add_axes(idx, xpx, ypx, xrng, tv, tt, last):
    common = dict(showgrid=True, gridcolor=GRID, gridwidth=1.3, zeroline=False,
                  showline=True, linecolor=AXLINE, linewidth=1.6,
                  ticks="inside", ticklen=9, tickwidth=1.3, tickcolor="#6A6A6A",
                  tickfont=dict(family=FONT, size=30 * K, color=TICKCOL), fixedrange=True)
    vis = [(v, t) for v, t in zip(tv, tt) if xrng[0] <= v <= xrng[1] + 1e-9]
    layout["xaxis%d" % idx] = dict(domain=[fx(xpx[0]), min(1.0, fx(xpx[1]))], range=xrng, anchor="y%d" % idx,
                                   tickmode="array", tickvals=[v for v, _ in vis], ticktext=[t for _, t in vis],
                                   mirror="allticks", ticklabelstandoff=3, **common)
    layout["yaxis%d" % idx] = dict(domain=[fy(ypx[1]), fy(ypx[0])], range=[-20, 0], anchor="x%d" % idx,
                                   tickmode="array", tickvals=depth_ticks, ticktext=depth_ticklabels,
                                   mirror=(False if last else "allticks"), ticklabelstandoff=6, **common)


XMARK = dict(symbol="x-thin-open", size=22 * K, color="black", line=dict(width=4.2, color="black"))
STAR = dict(symbol="asterisk-open", size=27 * K, color="black", line=dict(width=4.8, color="black"))

for p in range(4):
    idx = p + 1
    add_axes(idx, top_xpx[p], top_ypx, top_xrng[p], tg_ticks, tg_ticklabels, p == 3)
    for s, (xs, zs) in enumerate(top_series[p]):
        fig.add_trace(go.Scatter(x=xs, y=zs, mode="lines", name=top_names[s], showlegend=False,
                                 line=dict(color=top_colors[s], width=top_widths[s]),
                                 xaxis="x%d" % idx, yaxis="y%d" % idx))
    fig.add_trace(go.Scatter(x=[top_xmark_x[p]], y=[top_xmark_z[p]], mode="markers", showlegend=False,
                             marker=XMARK, xaxis="x%d" % idx, yaxis="y%d" % idx))
    fig.add_trace(go.Scatter(x=[top_star_x[p]], y=[top_star_z[p]], mode="markers", showlegend=False,
                             marker=STAR, xaxis="x%d" % idx, yaxis="y%d" % idx))

for p in range(4):
    idx = p + 5
    add_axes(idx, bot_xpx[p], bot_ypx, bot_xrng[p], n2_ticks, n2_ticklabels, p == 3)
    for s, (xs, zs) in enumerate(bot_series[p]):
        fig.add_trace(go.Scatter(x=xs, y=zs, mode="lines", name=bot_names[s], showlegend=False,
                                 line=dict(color=bot_colors[s], width=bot_widths[s]),
                                 xaxis="x%d" % idx, yaxis="y%d" % idx))
    fig.add_trace(go.Scatter(x=[bot_xmark_x[p]], y=[bot_xmark_z[p]], mode="markers", showlegend=False,
                             marker=XMARK, xaxis="x%d" % idx, yaxis="y%d" % idx))
    fig.add_trace(go.Scatter(x=[bot_star_x[p]], y=[bot_star_z[p]], mode="markers", showlegend=False,
                             marker=STAR, xaxis="x%d" % idx, yaxis="y%d" % idx))

# ------------------------------------------------------------------ decorations
PEACH = "#FBE5D6"
shapes = []


def rect(x0, y0, x1, y1, fill, line=None, lw=0, layer="above"):
    shapes.append(dict(type="rect", xref="paper", yref="paper", x0=fx(x0), x1=fx(x1), y0=fy(y1), y1=fy(y0),
                       fillcolor=fill, line=dict(color=line or fill, width=lw), layer=layer))


def seg(x0, y0, x1, y1, color, width, layer="above"):
    shapes.append(dict(type="line", xref="paper", yref="paper", x0=fx(x0), x1=fx(x1), y0=fy(y0), y1=fy(y1),
                       line=dict(color=color, width=width), layer=layer))


rect(-60, -60, 2640, 37, PEACH, layer="below")
rect(-60, 37, 103, 1545, PEACH, layer="below")
rect(-60, 1545, 94, 3040, PEACH, layer="below")
seg(94, 1545, 2640, 1545, "#F3E9E1", 2, layer="below")

# continuation of the right-most panels up to the image edge
for (y0, y1) in (top_ypx, bot_ypx):
    rect(XEDGE - 1, y0, 2640, y1, "#E5E5E5", layer="below")
    for d in depth_ticks[1:-1]:
        yy = y0 + (0 - d) / 20.0 * (y1 - y0)
        seg(XEDGE - 1, yy, 2640, yy, GRID, 1.3, layer="below")
    seg(XEDGE - 1, y0, 2640, y0, AXLINE, 1.6)
    seg(XEDGE - 1, y1, 2640, y1, AXLINE, 1.6)


def path(pts, color):
    d = "M " + " L ".join("%.5f,%.5f" % (fx(a), fy(b)) for a, b in pts) + " Z"
    shapes.append(dict(type="path", xref="paper", yref="paper", path=d, fillcolor=color,
                       line=dict(color=color, width=0), layer="above"))


path([(-30, 281), (47, 365), (-30, 449)], "#7F7F7F")
path([(-30, 1709), (53, 1709), (53, 1684), (103, 1734), (53, 1784), (53, 1759), (-30, 1759)], "#7F7F7F")

annotations = []


def text(x, y, s, size, bold=False, xanchor="center", yanchor="middle", angle=0, color="black",
         family=FONT, align="center", **kw):
    annotations.append(dict(xref="paper", yref="paper", x=fx(x), y=fy(y), text=("<b>%s</b>" % s) if bold else s,
                            showarrow=False, xanchor=xanchor, yanchor=yanchor, textangle=angle, align=align,
                            font=dict(family=family, size=size * K, color=color), **kw))


# legends (manually framed)
rect(584, 157, 694, 232, "white", "#8C8C8C", 1.5)
for i, nm in enumerate(top_names):
    yy = 177 + 35 * i
    seg(592, yy, 645, yy, top_colors[i], 5.5)
    text(651, yy, nm, 27, xanchor="left")

rect(511, 1586, 688, 1749, "white", "#8C8C8C", 1.5)
for i, nm in enumerate(bot_names):
    yy = 1608 + 40 * i
    seg(518, yy, 572, yy, bot_colors[i], 5.5 if i < 2 else 3)
    text(577, yy, nm, 31, xanchor="left")

# titles / labels
text(1425, 68, "19 July", 37, bold=True)
for p in range(4):
    cx = (top_xpx[p][0] + top_xpx[p][0] + 450) / 2
    text(cx, 121, time_windows[p], 34, bold=True)
text(177, 765, "Depth (m)", 37, bold=True, angle=-90)
text(170, 2195, "Depth (m)", 37, bold=True, angle=-90)
text(1426, 1504, "Temperature gradient", 39, bold=True)
text(1424, 2921, "1000*N<sup>2</sup>", 39, bold=True, yanchor="top")

# commentary boxes
BOXFILL, BOXLINE = "#FFF2CC", "#C00000"
boxes = [
    ((891, 145, 1458, 437), (909, 289), "Similar temp.<br>gradient<br>magnitude", 69),
    ((1541, 159, 2107, 450), (1560, 302.5), "Uniform temp.<br>gradient in D2<br>and not in D3", 69),
    ((305, 825, 759, 1388), (323, 1104),
     "The<br>temperature<br>gradient<br>profile within<br>DWL initially<br>was similar", 69),
    ((1103, 1543, 1979, 1836), (1121, 1688), "The salinity structure<br>follows the DWL deepening<br>in D3", 68),
    ((2190, 1513, 2660, 1893), (2208, 1702.5), "High N<sup>2</sup> below<br>the DWL<br>prevents<br>deepening", 69),
]
for (x0, y0, x1, y1), (tx, ty), s, fs in boxes:
    rect(x0, y0, x1, y1, BOXFILL, BOXLINE, 4)
    text(tx, ty, s, fs, xanchor="left", align="left", family=BOXFONT)

fig.update_layout(
    autosize=True,
    margin=dict(l=0, r=0, t=0, b=0, pad=0),
    paper_bgcolor="white", plot_bgcolor="#E5E5E5",
    showlegend=False,
    shapes=shapes, annotations=annotations,
    **layout,
)

fig.write_html("out.html", config={"displayModeBar": False, "staticPlot": True, "responsive": False},
               default_width="%dpx;position:absolute;left:0px;top:0px;margin:0px" % W,
               default_height="%dpx" % H,
               post_script="document.documentElement.style.margin='0';document.body.style.margin='0';"
                           "document.body.style.overflow='hidden';")
